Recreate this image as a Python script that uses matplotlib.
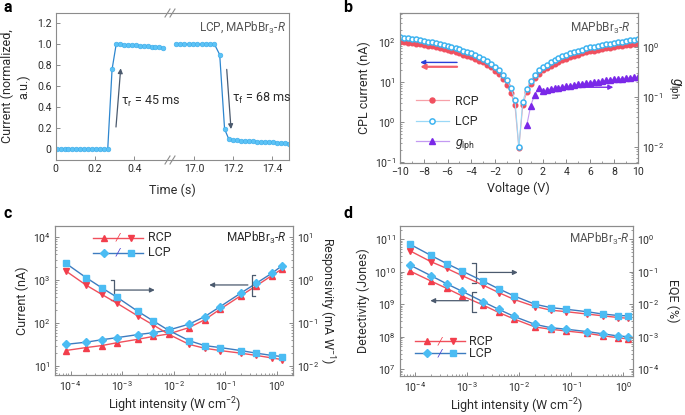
import numpy as np
import matplotlib
matplotlib.use('Agg')
import matplotlib.pyplot as plt
from matplotlib.ticker import LogLocator, NullFormatter, MultipleLocator

plt.rcParams['font.family'] = ['Roboto', 'DejaVu Sans']
plt.rcParams['mathtext.fontset'] = 'custom'
plt.rcParams['mathtext.rm'] = 'Roboto'
plt.rcParams['mathtext.it'] = 'Roboto:italic'
plt.rcParams['mathtext.bf'] = 'Roboto:bold'

# ---- panel a : response time (broken time axis)
t_on = [0.005, 0.025, 0.045, 0.065, 0.085, 0.105, 0.125, 0.145, 0.165, 0.185,
        0.205, 0.225, 0.245, 0.265, 0.287, 0.308, 0.328, 0.348, 0.368, 0.388,
        0.408, 0.428, 0.448, 0.468, 0.488, 0.508, 0.528, 0.548]
i_on = [0, 0, 0, 0, 0, 0, 0, 0, 0, 0, 0, 0, 0, 0, 0.76, 1.0, 0.998, 0.995,
        0.993, 0.99, 0.988, 0.985, 0.982, 0.979, 0.976, 0.973, 0.97, 0.967]
t_off = [16.905, 16.927, 16.949, 16.971, 16.993, 17.015, 17.037, 17.059, 17.081,
         17.103, 17.13, 17.155, 17.177, 17.197, 17.218, 17.238, 17.259, 17.279,
         17.3, 17.32, 17.341, 17.361, 17.382, 17.402, 17.423, 17.443, 17.464, 17.485]
i_off = [1.0, 1.0, 1.0, 1.0, 1.0, 1.0, 1.0, 1.0, 1.0, 1.0, 0.9, 0.19, 0.093,
         0.085, 0.082, 0.079, 0.077, 0.075, 0.073, 0.071, 0.069, 0.067, 0.065,
         0.063, 0.061, 0.059, 0.057, 0.052]

# ---- panel b : I-V under CPL
voltage = [-10.0, -9.67, -9.33, -9.0, -8.67, -8.33, -8.0, -7.67, -7.33, -7.0,
           -6.67, -6.33, -6.0, -5.67, -5.33, -5.0, -4.67, -4.33, -4.0, -3.67,
           -3.33, -3.0, -2.67, -2.33, -2.0, -1.67, -1.33, -1.0, -0.67, -0.33,
           0.0, 0.33, 0.67, 1.0, 1.33, 1.67, 2.0, 2.33, 2.67, 3.0,
           3.33, 3.67, 4.0, 4.33, 4.67, 5.0, 5.33, 5.67, 6.0, 6.33,
           6.67, 7.0, 7.33, 7.67, 8.0, 8.33, 8.67, 9.0, 9.33, 9.67, 10.0]
rcp_iv = [100, 97, 94, 91, 88.5, 86, 83, 80, 76.5, 73, 69.5, 66, 62, 58.5, 55,
          51.5, 48, 44.5, 41, 37.5, 34, 30.5, 27, 23, 19, 15.5, 12, 8.5, 5.2, 2.6,
          0.22, 2.6, 5.6, 9, 12.5, 16, 19.5, 22.5, 25.5, 28.5, 31.5, 34.5, 38, 41,
          44.5, 48, 51, 54.5, 58, 60.5, 63, 66, 68.5, 71, 74, 76.5, 79, 82, 84, 86, 88]
lcp_iv = [133, 128, 124, 119, 115, 110, 106, 101, 97, 92, 88, 83, 78, 74, 69,
          64.5, 60, 55.5, 51, 46.5, 42, 37.5, 33, 28.5, 24, 19.5, 15, 11, 6.8, 3.6,
          0.23, 3.2, 6.7, 10.5, 15, 19.5, 23, 27, 31, 35, 39, 43.5, 48, 52, 56, 60,
          64, 68, 72, 75.5, 79, 83, 86.5, 90, 94, 97.5, 101, 105, 108.5, 112, 115]
g_volt = voltage[32:]
g_lph = [0.027, 0.066, 0.11, 0.15, 0.13, 0.135, 0.14, 0.146, 0.15, 0.155, 0.16,
         0.165, 0.17, 0.175, 0.18, 0.185, 0.19, 0.195, 0.2, 0.205, 0.21, 0.215,
         0.22, 0.225, 0.23, 0.234, 0.238, 0.242, 0.246]

# ---- panels c, d : light intensity dependence
intensity = [8e-5, 2e-4, 4e-4, 8e-4, 2e-3, 4e-3, 8e-3, 2e-2, 4e-2, 8e-2, 0.2, 0.4, 0.8, 1.25]
cur_rcp = [23, 27, 30, 35, 42, 49, 56, 79, 120, 212, 435, 740, 1280, 1810]
cur_lcp = [32, 36, 41, 46, 54, 60, 69, 95, 142, 243, 500, 850, 1450, 2150]
resp_rcp = [1.66, 0.77, 0.47, 0.29, 0.148, 0.091, 0.055, 0.032, 0.026, 0.023, 0.020, 0.0177, 0.0155, 0.0142]
resp_lcp = [2.5, 1.15, 0.67, 0.40, 0.19, 0.113, 0.068, 0.039, 0.030, 0.027, 0.023, 0.020, 0.0177, 0.0167]
det_rcp = [1.05e10, 5.2e9, 3.1e9, 1.8e9, 9.5e8, 5.6e8, 3.5e8, 2.0e8, 1.7e8, 1.5e8, 1.28e8, 1.07e8, 9.3e7, 8.5e7]
det_lcp = [1.6e10, 7.6e9, 4.3e9, 2.5e9, 1.2e9, 7.0e8, 4.2e8, 2.4e8, 1.9e8, 1.7e8, 1.44e8, 1.23e8, 1.05e8, 1.0e8]
eqe_rcp = [0.44, 0.205, 0.128, 0.076, 0.039, 0.023, 0.014, 0.0085, 0.0066, 0.0059, 0.0050, 0.0044, 0.0039, 0.0037]
eqe_lcp = [0.70, 0.32, 0.18, 0.105, 0.052, 0.030, 0.018, 0.010, 0.0079, 0.0070, 0.0059, 0.0050, 0.0045, 0.0044]

RED = '#f23e4c'
REDL = '#f0505c'
BLUE = '#4bbcf3'
BLUEL = '#3d7cc0'
PURP = '#7a28e8'
SPINE = '#8c8c8c'
TXT = '#2b2b2b'
ARR = '#4b5a6e'
TS = 7.6   # tick label size
LS = 9     # axis label size

W, H = 685, 415
fig = plt.figure(figsize=(6.85, 4.15), dpi=100)


def box(l, t, r, b):
    return [l / W, 1 - b / H, (r - l) / W, (b - t) / H]


def style(ax):
    for sp in ax.spines.values():
        sp.set_color(SPINE)
        sp.set_linewidth(0.8)
    ax.tick_params(which='both', direction='in', colors=SPINE, labelcolor=TXT, labelsize=TS)
    ax.tick_params(which='major', length=3, width=0.7, pad=3)
    ax.tick_params(which='minor', length=1.7, width=0.6)


def logaxis(axis):
    axis.set_major_locator(LogLocator(base=10, numticks=20))
    axis.set_minor_locator(LogLocator(base=10, subs=np.arange(2, 10), numticks=20))
    axis.set_minor_formatter(NullFormatter())


def arrow(ax, x0, y0, x1, y1, color=ARR, lw=0.9):
    ax.annotate('', xy=(x1, y1), xytext=(x0, y0),
                arrowprops=dict(arrowstyle='-|>', color=color, lw=lw,
                                mutation_scale=7, shrinkA=0, shrinkB=0))


def bracket(ax, x0, x1, y0, y1):
    ax.plot([x0, x1, x1, x0], [y0, y0, y1, y1], color=ARR, lw=0.9, clip_on=False)


def fake_legend(ax, xs, rows):
    for y, col, lcol, m1, m2, lab, slash in rows:
        ax.plot([xs[0], xs[4]], [y, y], color=lcol, lw=1.0, transform=ax.transAxes)
        ax.plot([xs[1]], [y], marker=m1[0], ms=m1[1], color=col, transform=ax.transAxes, ls='')
        ax.plot([xs[3]], [y], marker=m2[0], ms=m2[1], color=col, transform=ax.transAxes, ls='')
        ax.text(xs[2], y, '/', color=slash, fontsize=8, ha='center', va='center',
                transform=ax.transAxes, style='italic')
        ax.text(xs[5], y, lab, color=TXT, fontsize=9, ha='left', va='center',
                transform=ax.transAxes)


# ================= panel a
a1 = fig.add_axes(box(55.7, 13, 170, 160))
a2 = fig.add_axes(box(170, 13, 289.3, 160))
for ax in (a1, a2):
    style(ax)
    ax.set_ylim(-0.105, 1.298)
    ax.patch.set_visible(False)
a1.plot(t_on, i_on, '-', color='#2d86cf', lw=0.9)
a1.plot(t_on, i_on, 'o', color='#5cc3f6', mec='#3aaaea', mew=0.4, ms=3.4)
a2.plot(t_off, i_off, '-', color='#2d86cf', lw=0.9)
a2.plot(t_off, i_off, 'o', color='#5cc3f6', mec='#3aaaea', mew=0.4, ms=3.4)
a1.set_xlim(0, 0.582)
a2.set_xlim(16.875, 17.487)
a1.spines['right'].set_visible(False)
a2.spines['left'].set_visible(False)
a1.set_xticks([0, 0.2, 0.4])
a1.set_xticklabels(['0', '0.2', '0.4'])
a2.set_xticks([17.0, 17.2, 17.4])
a2.set_xticklabels(['17.0', '17.2', '17.4'])
a1.set_yticks([0, 0.2, 0.4, 0.6, 0.8, 1.0, 1.2])
a1.set_yticklabels(['0', '0.2', '0.4', '0.6', '0.8', '1.0', '1.2'])
a2.set_yticks([])
a1.set_ylabel('Current (normalized,\na.u.)', fontsize=LS, color=TXT, multialignment='center', labelpad=5)
fig.text(172 / W, 1 - 190 / H, 'Time (s)', ha='center', va='center', fontsize=LS, color=TXT)
arrow(a1, 0.307, 0.21, 0.331, 0.77)
arrow(a2, 17.166, 0.76, 17.188, 0.19)
a1.text(0.333, 0.45, 'τ$_{\\mathrm{r}}$ = 45 ms', fontsize=9, color=TXT, va='center', zorder=10)
a2.text(17.195, 0.484, 'τ$_{\\mathrm{f}}$ = 68 ms', fontsize=9, color=TXT, va='center')
a2.text(0.97, 0.9, 'LCP, MAPbBr$_3$-$\\mathit{R}$', transform=a2.transAxes, ha='right',
        va='center', fontsize=8.5, color='#555555')
# break marks
for yb in (13, 160):
    for xb in (167.5, 172.5):
        fig.add_artist(plt.Line2D([(xb - 2.5) / W, (xb + 2.5) / W],
                                  [1 - (yb + 4) / H, 1 - (yb - 4) / H],
                                  color=SPINE, lw=0.8))

# ================= panel b
ab = fig.add_axes(box(400, 13, 637.7, 163))
style(ab)
ab.set_yscale('log')
logaxis(ab.yaxis)
ab.plot(voltage, rcp_iv, '-', color='#f7a0a8', lw=0.8)
ab.plot(voltage, rcp_iv, 'o', color='#f0505f', ms=3.3, mec='#f0505f')
ab.plot(voltage, lcp_iv, '-', color='#9ad8f7', lw=0.8)
ab.plot(voltage, lcp_iv, 'o', mfc='white', mec='#3fb4f0', mew=1.1, ms=3.6)
ab.set_xlim(-10, 10)
ab.set_ylim(0.093, 525)
ab.set_xticks(list(range(-10, 11, 2)))
ab.xaxis.set_minor_locator(MultipleLocator(1))
ab.set_xticklabels(['\u221210', '\u22128', '\u22126', '\u22124', '\u22122', '0', '2', '4', '6', '8', '10'])
ab.set_xlabel('Voltage (V)', fontsize=LS, color=TXT, labelpad=3)
ab.set_ylabel('CPL current (nA)', fontsize=LS, color=TXT, labelpad=3)
ab.tick_params(axis='y', which='both', right=False)
abr = ab.twinx()
style(abr)
abr.set_yscale('log')
logaxis(abr.yaxis)
abr.plot(g_volt, g_lph, '-', color='#c39af2', lw=0.8)
abr.plot(g_volt, g_lph, '^', color=PURP, ms=4)
abr.set_ylim(0.0047, 4.7)
abr.set_ylabel('$g_{\\mathrm{lph}}$', fontsize=10, color=TXT, rotation=270, labelpad=13)
arrow(ab, -5.2, 30.5, -8.3, 30.5, color='#2a3fd8', lw=1.0)
arrow(ab, -5.2, 23.7, -8.3, 23.7, color='#f4606c', lw=1.6)
arrow(abr, 5.1, 0.154, 7.95, 0.154, color=PURP, lw=1.0)
ab.text(0.97, 0.9, 'MAPbBr$_3$-$\\mathit{R}$', transform=ab.transAxes, ha='right',
        va='center', fontsize=8.5, color='#555555')
hb = [plt.Line2D([], [], color='#f7a0a8', lw=0.9, marker='o', mfc='#f0505f', mec='#f0505f', ms=3.6),
      plt.Line2D([], [], color='#9ad8f7', lw=0.9, marker='o', mfc='white', mec='#3fb4f0', mew=1.1, ms=3.8),
      plt.Line2D([], [], color='#c39af2', lw=0.9, marker='^', mfc=PURP, mec=PURP, ms=4.2)]
leg = ab.legend(hb, ['RCP', 'LCP', '$g_{\\mathrm{lph}}$'], loc='lower left', frameon=False,
                fontsize=9, bbox_to_anchor=(0.02, 0.0), handlelength=2.6, labelspacing=0.6,
                handletextpad=0.5)
for t in leg.get_texts():
    t.set_color(TXT)

# ================= panel c
ac = fig.add_axes(box(55, 225.7, 293.3, 375))
style(ac)
ac.set_xscale('log')
ac.set_yscale('log')
logaxis(ac.xaxis)
logaxis(ac.yaxis)
ac.plot(intensity, cur_rcp, '-', color=REDL, lw=1.0)
ac.plot(intensity, cur_lcp, '-', color=BLUEL, lw=1.0)
ac.plot(intensity, cur_rcp, '^', color=RED, ms=4.6)
ac.plot(intensity, cur_lcp, 'D', color=BLUE, ms=3.8)
ac.set_xlim(5.0e-5, 2.09)
ac.set_ylim(6.2, 18600)
ac.tick_params(axis='y', which='both', right=False)
ac.tick_params(axis='x', which='both', top=False)
ac.set_ylabel('Current (nA)', fontsize=LS, color=TXT, labelpad=3)
ac.set_xlabel('Light intensity (W cm$^{-2}$)', fontsize=LS, color=TXT, labelpad=2)
acr = ac.twinx()
style(acr)
acr.set_yscale('log')
logaxis(acr.yaxis)
acr.plot(intensity, resp_rcp, '-', color=REDL, lw=1.0)
acr.plot(intensity, resp_lcp, '-', color=BLUEL, lw=1.0)
acr.plot(intensity, resp_rcp, 'v', color=RED, ms=4.6)
acr.plot(intensity, resp_lcp, 's', color=BLUE, ms=4.0)
acr.set_ylim(0.0062, 18.6)
acr.set_ylabel('Responsivity (mA W$^{-1}$)', fontsize=LS, color=TXT, rotation=270, labelpad=12)
bracket(ac, 6.0e-4, 6.9e-4, 1000, 345)
arrow(ac, 7.4e-4, 590, 4.3e-3, 590)
bracket(ac, 3.7e-1, 3.3e-1, 1300, 427)
arrow(ac, 0.275, 775, 0.049, 775)
ac.text(0.97, 0.92, 'MAPbBr$_3$-$\\mathit{R}$', transform=ac.transAxes, ha='right',
        va='center', fontsize=8.5, color=TXT)
fake_legend(ac, [0.159, 0.206, 0.262, 0.319, 0.371, 0.392],
            [(0.918, RED, REDL, ('^', 4.6), ('v', 4.6), 'RCP', RED),
             (0.819, BLUE, BLUEL, ('D', 3.8), ('s', 4.0), 'LCP', '#4a3fd0')])

# ================= panel d
ad = fig.add_axes(box(400, 225.7, 633.3, 375.7))
style(ad)
ad.set_xscale('log')
ad.set_yscale('log')
logaxis(ad.xaxis)
logaxis(ad.yaxis)
ad.plot(intensity, det_rcp, '-', color=REDL, lw=1.0)
ad.plot(intensity, det_lcp, '-', color=BLUEL, lw=1.0)
ad.plot(intensity, det_rcp, '^', color=RED, ms=4.6)
ad.plot(intensity, det_lcp, 'D', color=BLUE, ms=3.8)
ad.set_xlim(5.1e-5, 1.55)
ad.set_ylim(6.3e6, 2.63e11)
ad.tick_params(axis='y', which='both', right=False)
ad.tick_params(axis='x', which='both', top=False)
ad.set_ylabel('Detectivity (Jones)', fontsize=LS, color=TXT, labelpad=3)
ad.set_xlabel('Light intensity (W cm$^{-2}$)', fontsize=LS, color=TXT, labelpad=2)
adr = ad.twinx()
style(adr)
adr.set_yscale('log')
logaxis(adr.yaxis)
adr.plot(intensity, eqe_rcp, '-', color=REDL, lw=1.0)
adr.plot(intensity, eqe_lcp, '-', color=BLUEL, lw=1.0)
adr.plot(intensity, eqe_rcp, 'v', color=RED, ms=4.6)
adr.plot(intensity, eqe_lcp, 's', color=BLUE, ms=4.0)
adr.set_ylim(6.3e-5, 2.63)
adr.set_ylabel('EQE (%)', fontsize=LS, color=TXT, rotation=270, labelpad=14)
bracket(ad, 10 ** -2.90, 10 ** -2.84, 10 ** 10.26, 10 ** 9.65)
arrow(ad, 10 ** -2.78, 10 ** 9.98, 10 ** -2.03, 10 ** 9.98)
bracket(ad, 10 ** -2.84, 10 ** -2.90, 10 ** 9.39, 10 ** 8.77)
arrow(ad, 10 ** -2.98, 10 ** 9.11, 10 ** -3.71, 10 ** 9.11)
ad.text(0.985, 0.91, 'MAPbBr$_3$-$\\mathit{R}$', transform=ad.transAxes, ha='right',
        va='center', fontsize=8.5, color='#555555')
fake_legend(ad, [0.064, 0.117, 0.171, 0.228, 0.279, 0.297],
            [(0.231, RED, REDL, ('^', 4.6), ('v', 4.6), 'RCP', RED),
             (0.149, BLUE, BLUEL, ('D', 3.8), ('s', 4.0), 'LCP', '#4a3fd0')])

for lab, x, y in [('a', 3, 8), ('b', 343, 8), ('c', 3, 213), ('d', 343, 213)]:
    fig.text(x / W, 1 - y / H, lab, fontsize=11.5, fontweight='bold', va='center', ha='left')

fig.savefig('out.png', dpi=100)
